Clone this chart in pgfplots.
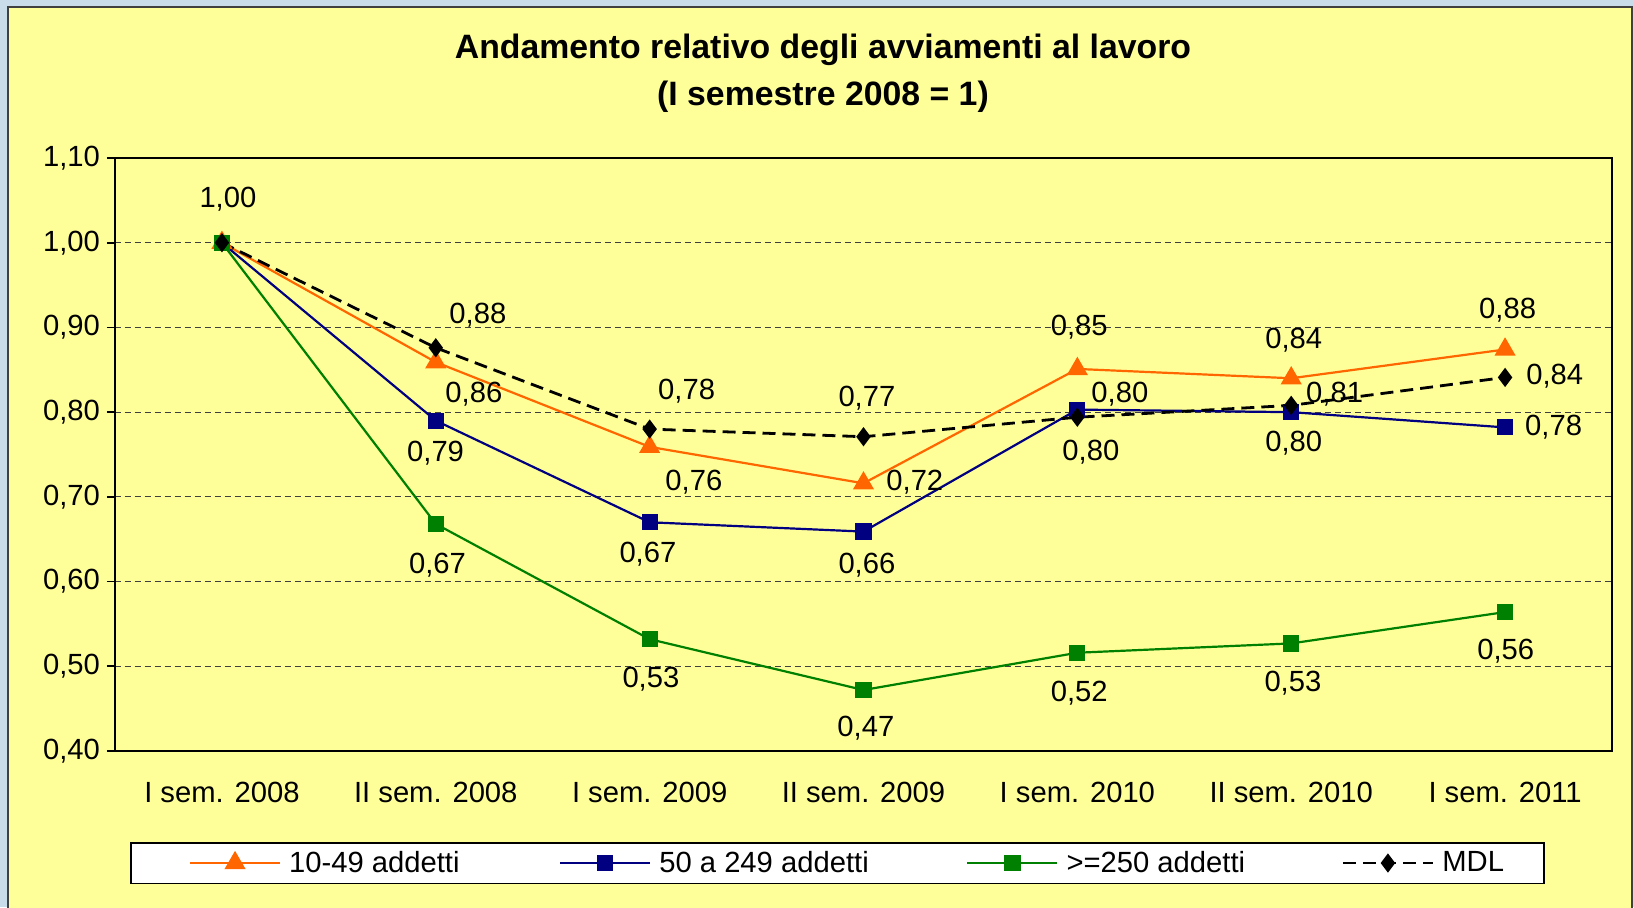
\documentclass[border=0pt]{standalone}
\usepackage{pgfplots}
\pgfplotsset{compat=1.18}
\usepackage{fontspec}
\setmainfont{Liberation Sans}
\definecolor{bg}{HTML}{FFFF99}
\definecolor{c1}{HTML}{FF6600}
\definecolor{c2}{HTML}{000080}
\definecolor{c3}{HTML}{008000}
\definecolor{edge}{HTML}{C8DCEA}
\newcommand{\lab}{\fontsize{14.6}{17}\selectfont}
\begin{document}
\begin{tikzpicture}
\useasboundingbox (0,0) rectangle (817pt,453.5pt);
\fill[edge] (0,0) rectangle (817pt,453.5pt);
\filldraw[fill=bg, draw=black!75, line width=0.9pt] (4pt,-2pt) rectangle (816pt,450pt);
\node[font=\fontsize{16.9}{23.5}\selectfont\bfseries, align=center] at (411.5pt,416.75pt)
  {Andamento relativo degli avviamenti al lavoro\\(I semestre 2008 = 1)};
\begin{axis}[
  at={(57.5pt,78pt)}, anchor=south west,
  scale only axis, width=748.5pt, height=296.5pt,
  xmin=-0.5, xmax=6.5, ymin=0.4, ymax=1.1,
  clip=false,
  axis line style={black, line width=1pt},
  xtick pos=bottom, ytick pos=left,
  xtick={0,1,2,3,4,5,6},
  xticklabels={I sem. 2008, II sem. 2008, I sem. 2009, II sem. 2009, I sem. 2010, II sem. 2010, I sem. 2011},
  xtick style={draw=none},
  extra x ticks={-0.5,0.5,1.5,2.5,3.5,4.5,5.5,6.5},
  extra x tick labels={},
  extra x tick style={tick style={draw=black, line width=0.8pt}, major tick length=4.5pt, tick align=outside, grid=none},
  ytick={0.4,0.5,0.6,0.7,0.8,0.9,1.0,1.1},
  ytick style={draw=black, line width=0.8pt},
  major tick length=4pt, tick align=outside,
  ymajorgrids, grid style={densely dashed, black!75, line width=0.5pt},
  yticklabel style={font=\lab, /pgf/number format/.cd, fixed, fixed zerofill, precision=2, use comma, assume math mode=true},
  xticklabel style={font=\lab, yshift=-8pt},
  legend columns=4,
  legend style={at={(0.4826,-0.1889)}, anchor=center, draw=black, line width=0.6pt, fill=white,
    font=\lab, inner xsep=29pt, inner ysep=4pt, column sep=0pt, nodes={inner sep=0pt}},
  legend image code/.code={\draw[mark repeat=2, mark phase=2] plot coordinates {(0pt,0pt) (22.5pt,0pt) (45pt,0pt)};},
]
\addplot[c1, line width=1.1pt, mark=triangle*, mark size=5pt, mark options={solid}] coordinates {
 (0,1.00) (1,0.859) (2,0.759) (3,0.716) (4,0.851) (5,0.840) (6,0.874)};
\addlegendentry{\hspace{4pt}\makebox[135pt][l]{10-49 addetti}}
\addplot[c2, line width=1.1pt, mark=square*, mark size=3.5pt, mark options={solid}] coordinates {
 (0,1.00) (1,0.790) (2,0.670) (3,0.659) (4,0.803) (5,0.800) (6,0.782)};
\addlegendentry{\hspace{4pt}\makebox[153.5pt][l]{50 a 249 addetti}}
\addplot[c3, line width=1.1pt, mark=square*, mark size=3.5pt, mark options={solid}] coordinates {
 (0,1.00) (1,0.668) (2,0.532) (3,0.472) (4,0.516) (5,0.527) (6,0.564)};
\addlegendentry{\hspace{4pt}\makebox[137.5pt][l]{>=250 addetti}}
\addplot[black, line width=1.4pt, dash pattern=on 6.5pt off 3.5pt, mark=diamond*, mark size=4pt, mark options={solid, line width=1pt}] coordinates {
 (0,1.00) (1,0.876) (2,0.780) (3,0.771) (4,0.794) (5,0.808) (6,0.841)};
\addlegendentry{\hspace{4pt}\makebox[21.8pt][l]{MDL}}
% data labels
\node[font=\lab] at (axis cs:0.028,1.0516) {1,00};
\node[font=\lab] at (axis cs:1.178,0.8214) {0,86};
\node[font=\lab] at (axis cs:2.207,0.717) {0,76};
\node[font=\lab] at (axis cs:3.240,0.717) {0,72};
\node[font=\lab] at (axis cs:4.009,0.9005) {0,85};
\node[font=\lab] at (axis cs:5.012,0.885) {0,84};
\node[font=\lab] at (axis cs:6.012,0.920) {0,88};
\node[font=\lab] at (axis cs:0.999,0.7514) {0,79};
\node[font=\lab] at (axis cs:1.992,0.632) {0,67};
\node[font=\lab] at (axis cs:3.016,0.6195) {0,66};
\node[font=\lab] at (axis cs:4.199,0.8214) {0,80};
\node[font=\lab] at (axis cs:5.012,0.7635) {0,80};
\node[font=\lab] at (axis cs:6.227,0.7824) {0,78};
\node[font=\lab] at (axis cs:1.008,0.6195) {0,67};
\node[font=\lab] at (axis cs:2.006,0.4843) {0,53};
\node[font=\lab] at (axis cs:3.011,0.4266) {0,47};
\node[font=\lab] at (axis cs:4.009,0.4684) {0,52};
\node[font=\lab] at (axis cs:5.008,0.4795) {0,53};
\node[font=\lab] at (axis cs:6.003,0.518) {0,56};
\node[font=\lab] at (axis cs:1.197,0.915) {0,88};
\node[font=\lab] at (axis cs:2.173,0.8252) {0,78};
\node[font=\lab] at (axis cs:3.016,0.8166) {0,77};
\node[font=\lab] at (axis cs:4.063,0.7529) {0,80};
\node[font=\lab] at (axis cs:5.203,0.8214) {0,81};
\node[font=\lab] at (axis cs:6.232,0.8426) {0,84};
\end{axis}
\end{tikzpicture}
\end{document}
